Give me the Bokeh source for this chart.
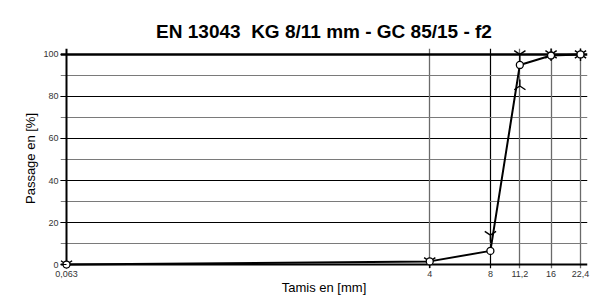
import math
from bokeh.plotting import figure
from bokeh.models import FixedTicker, Grid, Range1d, Label
from bokeh.embed import file_html
from bokeh.resources import INLINE

# ---- data ----
sieves = [0.063, 4, 8, 11.2, 16, 22.4]
sieve_labels = ["0,063", "4", "8", "11,2", "16", "22,4"]
passing = [0, 1.5, 6.5, 95, 99.5, 100]
upper_sieves = [0.063, 4, 8, 11.2, 16, 22.4]
upper_limits = [0, 1.5, 14, 100, 100, 100]
lower_sieves = [11.2, 16, 22.4]
lower_limits = [85, 100, 100]
y_ticks = [0, 20, 40, 60, 80, 100]
y_grid_major = [20, 40, 60, 80]
y_grid_minor = [10, 30, 50, 70, 90]
title_text = "EN 13043\u00a0 KG 8/11 mm - GC 85/15 - f2"

# ---- layout (pixels) ----
W, H = 593, 297
data_w, data_h = 514, 212
padL, padR, padT, padB = 6, 7, 6, 4
lx0, lx1 = math.log10(sieves[0]), math.log10(sieves[-1])
k = (lx1 - lx0) / data_w
x_start = 10 ** (lx0 - padL * k)
x_end = 10 ** (lx1 + padR * k)
ky = 100 / data_h
y_start = 0 - padB * ky
y_end = 100 + padT * ky

p = figure(width=W, height=H, x_axis_type="log",
           x_range=Range1d(x_start, x_end), y_range=Range1d(y_start, y_end),
           output_backend="svg", toolbar_location=None,
           min_border_left=60, min_border_right=6,
           min_border_top=48, min_border_bottom=27)
p.outline_line_color = None
p.background_fill_color = "white"
p.border_fill_color = "white"

p.title.text = title_text
p.title.align = "center"
p.title.text_font = "Liberation Sans"
p.title.text_font_size = "19px"
p.title.text_font_style = "bold"
p.title.text_color = "black"
p.title.standoff = 13

# axes
p.xaxis.ticker = FixedTicker(ticks=sieves)
p.xaxis.major_label_overrides = {s: l for s, l in zip(sieves, sieve_labels)}
p.xaxis.axis_line_color = None
p.xaxis.major_tick_line_color = None
p.xaxis.major_tick_in = 0
p.xaxis.major_tick_out = 0
p.xaxis.minor_tick_line_color = None
p.xaxis.minor_tick_in = 0
p.xaxis.minor_tick_out = 0
p.xaxis.major_label_standoff = 2
p.xaxis.axis_label = "Tamis en [mm]"

p.yaxis.ticker = FixedTicker(ticks=y_ticks)
p.yaxis.axis_line_color = None
p.yaxis.major_tick_in = padL
p.yaxis.major_tick_out = 0
p.yaxis.major_tick_line_color = "black"
p.yaxis.major_tick_line_width = 1
p.yaxis.minor_tick_line_color = None
p.yaxis.minor_tick_in = 0
p.yaxis.minor_tick_out = 0
p.yaxis.major_label_standoff = 2
p.yaxis.axis_label = "Passage en [%]"

for ax in (p.xaxis, p.yaxis):
    ax.major_label_text_font = "Liberation Sans"
    ax.major_label_text_font_size = "9px"
    ax.major_label_text_color = "#333333"
    ax.axis_label_text_font = "Liberation Sans"
    ax.axis_label_text_font_size = "13px"
    ax.axis_label_text_font_style = "normal"
    ax.axis_label_text_color = "black"
p.xaxis.axis_label_standoff = 0
p.yaxis.axis_label_standoff = 2

# grids
p.xgrid.ticker = FixedTicker(ticks=[8])
p.xgrid.grid_line_color = "black"
p.xgrid.grid_line_width = 1.2
p.ygrid.ticker = FixedTicker(ticks=y_grid_major)
p.ygrid.grid_line_color = "black"
p.ygrid.grid_line_width = 1
p.add_layout(Grid(dimension=0, ticker=FixedTicker(ticks=[4, 11.2, 16, 22.4]),
                  grid_line_color="#6a6a6a", grid_line_width=1.3))
p.add_layout(Grid(dimension=1, ticker=FixedTicker(ticks=y_grid_minor),
                  grid_line_color="#7a7a7a", grid_line_width=1))
p.add_layout(Grid(dimension=1, ticker=FixedTicker(ticks=[100]),
                  grid_line_color="black", grid_line_width=2.5))
p.add_layout(Grid(dimension=1, ticker=FixedTicker(ticks=[0]),
                  grid_line_color="black", grid_line_width=2))
p.add_layout(Grid(dimension=0, ticker=FixedTicker(ticks=[sieves[0]]),
                  grid_line_color="black", grid_line_width=2))

# data
p.line(sieves, passing, line_color="black", line_width=2)
p.scatter(upper_sieves, upper_limits, marker="y", size=13,
          line_color="black", line_width=1.4)
p.scatter(lower_sieves, lower_limits, marker="y", size=13, angle=math.pi,
          line_color="black", line_width=1.4)
p.scatter(sieves, passing, marker="circle", size=7, fill_color="white",
          line_color="black", line_width=1.3)

# outer box (left and top edges visible; the rest runs off the canvas)
p.add_layout(Label(x=6, y=10, x_units="canvas", y_units="canvas",
                   text=" ", text_font_size="4px", anchor="top_left",
                   padding=(0, 700, 400, 0),
                   border_line_color="black", border_line_width=2,
                   background_fill_color=None))

open("out.html", "w").write(file_html(p, INLINE))
